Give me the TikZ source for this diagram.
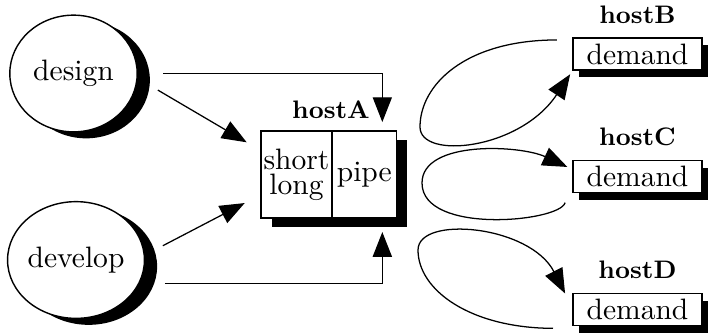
\documentclass[tikz,border=0pt]{standalone}
\usepackage{fontspec}
\usetikzlibrary{positioning,shapes.geometric,shadows,arrows.meta}

\begin{document}
\begin{tikzpicture}
    [
        x=0.0125cm, y=-0.0125cm,
        font=\fontsize{10.5}{9}\selectfont,
        person/.style={ellipse, draw, fill=white, line width=0.5pt, inner sep=0pt,
            minimum width=45.3pt, minimum height=41.5pt,
            drop shadow={shadow xshift=4.5pt, shadow yshift=-2.3pt, fill=black, opacity=1}},
        cell/.style={rectangle, draw, fill=white, line width=0.6pt, outer sep=0pt,
            minimum height=30.9pt, inner sep=1pt, align=center,
            drop shadow={shadow xshift=3.9pt, shadow yshift=-3.2pt, fill=black, opacity=1}},
        host/.style={rectangle, draw, fill=white, line width=0.6pt, outer sep=0pt,
            minimum width=45.9pt, minimum height=11.4pt, inner sep=0pt,
            drop shadow={shadow xshift=2.1pt, shadow yshift=-2.5pt, fill=black, opacity=1}},
        hostname/.style={font=\fontsize{9}{10}\selectfont\bfseries},
        flow/.style={-{Triangle[length=8.8pt,width=6.8pt]}, line width=0.45pt},
    ]
    \useasboundingbox (0,0) rectangle (712,335);
    \node (design) at (73.5,73.5) [person] {design};
    \node (develop) at (76,260) [person] {develop};

    \node (short) at (296.5,174.5) [cell, minimum width=25.3pt] {short\\long};
    \node (pipe) [cell, right=0pt of short, minimum width=22.8pt] {pipe};
    \node (nameA) at (331,110) [hostname] {hostA};

    \node (hostB) at (637.5,54) [host] {demand};
    \node (hostC) at (637.5,176.5) [host] {demand};
    \node (hostD) at (637.5,309.5) [host] {demand};
    \node (nameB) [hostname, above=1.7pt of hostB] {hostB};
    \node (nameC) [hostname, above=1.7pt of hostC] {hostC};
    \node (nameD) [hostname, above=1.9pt of hostD] {hostD};

    \draw [flow] ([xshift=9pt]design.east) -| ([xshift=-5pt,yshift=3.2pt]pipe.north east);
    \draw [flow] ([xshift=8pt]design.-15) -- ([xshift=-5pt,yshift=-4pt]short.north west);
    \draw [flow] ([xshift=7pt]develop.12) -- ([xshift=-5.7pt,yshift=5.3pt]short.south west);
    \draw [flow] ([xshift=9pt]develop.-20) -| ([xshift=-5pt,yshift=-5pt]pipe.south east);

    \draw [flow] ([xshift=-5.7pt,yshift=-0.7pt]hostB.north west)
        .. controls (465,40) and (420,85) .. (420,127)
        .. controls (420,160) and (520,150) .. ([xshift=-1pt,yshift=-1.5pt]hostB.south west);
    \draw [flow] ([xshift=-2.8pt,yshift=-3.6pt]hostC.south west)
        .. controls (560,222) and (422,235) .. (422,183)
        .. controls (422,140) and (520,145) .. ([xshift=-2pt,yshift=3.4pt]hostC.west);
    \draw [flow] ([xshift=-7.1pt,yshift=-1pt]hostD.south west)
        .. controls (470,328) and (418,290) .. (418,250)
        .. controls (418,215) and (530,225) .. ([xshift=-2.8pt]hostD.north west);
\end{tikzpicture}
\end{document}
